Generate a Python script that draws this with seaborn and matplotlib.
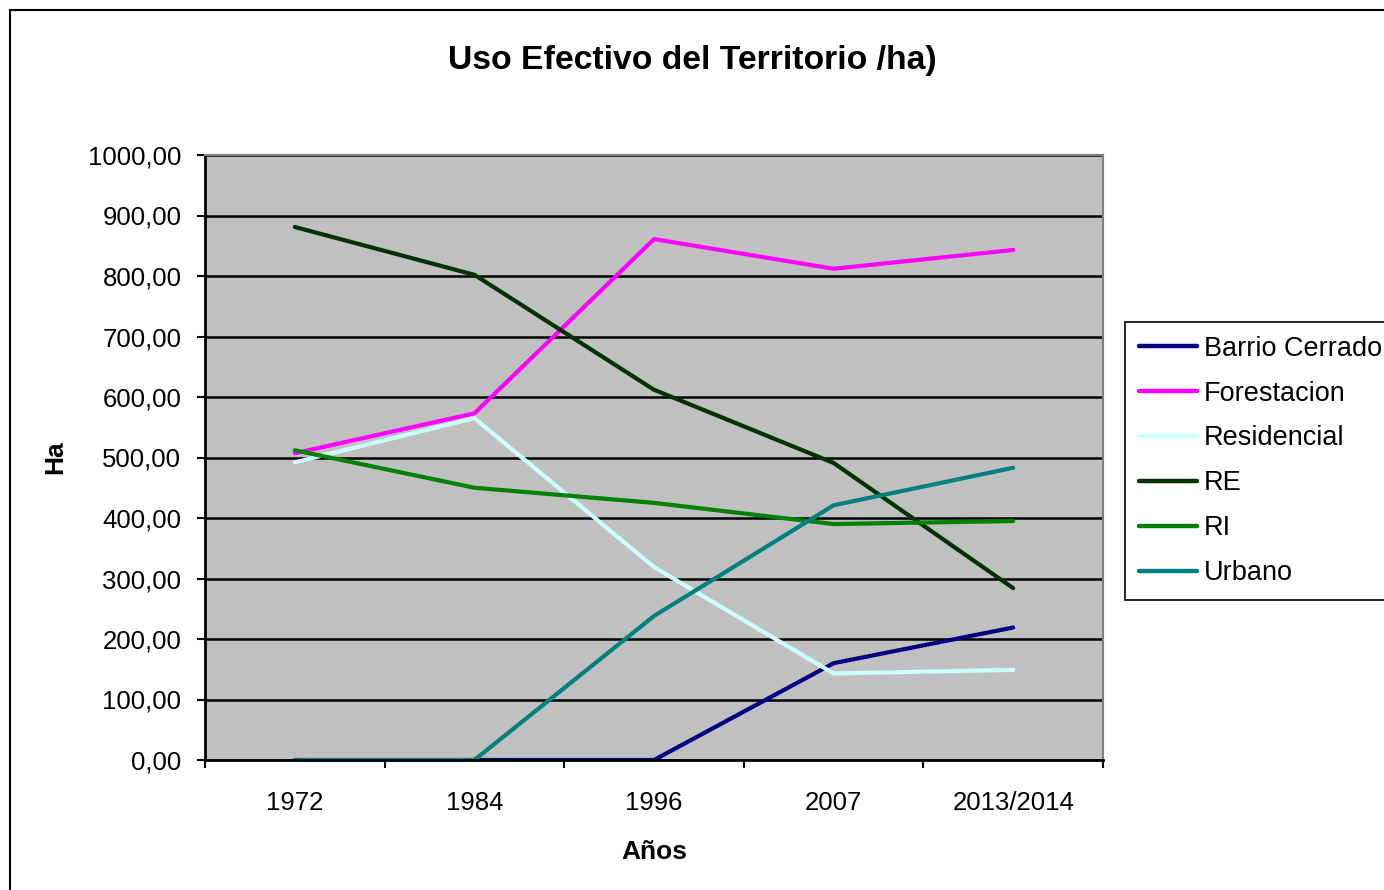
import pandas as pd
import matplotlib.pyplot as plt
import seaborn as sns
from matplotlib.ticker import FuncFormatter, FixedLocator
from matplotlib.patches import Rectangle

# datos
anios = ["1972", "1984", "1996", "2007", "2013/2014"]
barrio_cerrado = [0, 0, 0, 160, 219]
forestacion = [507, 573, 861, 812, 843]
residencial = [492, 565, 319, 143, 149]
re = [881, 802, 612, 491, 284]
ri = [512, 450, 425, 390, 395]
urbano = [0, 0, 238, 421, 483]

series = {
    "Barrio Cerrado": barrio_cerrado,
    "Forestacion": forestacion,
    "Residencial": residencial,
    "RE": re,
    "RI": ri,
    "Urbano": urbano,
}
colores = {
    "Barrio Cerrado": "#000080",
    "Forestacion": "#FF00FF",
    "Residencial": "#CCFFFF",
    "RE": "#003300",
    "RI": "#008000",
    "Urbano": "#008080",
}

filas = []
for nombre, valores in series.items():
    for a, v in zip(anios, valores):
        filas.append({"Año": a, "Ha": v, "Uso": nombre})
df = pd.DataFrame(filas)

sns.set_theme(style="white")
plt.rcParams["font.family"] = ["Liberation Sans", "DejaVu Sans"]

fig = plt.figure(figsize=(13.84, 8.9), dpi=100)
ax = fig.add_axes([205 / 1384, 1 - 760 / 890, 898 / 1384, 605 / 890])
ax.set_facecolor("#C0C0C0")

sns.lineplot(data=df, x="Año", y="Ha", hue="Uso", palette=colores,
             hue_order=list(series.keys()), linewidth=3, ax=ax, legend=True)

ax.set_xlim(-0.5, 4.5)
ax.set_ylim(0, 1000)
ax.set_yticks(range(0, 1001, 100))
ax.yaxis.set_major_formatter(FuncFormatter(lambda v, p: f"{v:.2f}".replace(".", ",")))
ax.yaxis.grid(True, color="black", linewidth=1.8)
ax.set_axisbelow(True)

# ticks entre categorias
ax.xaxis.set_minor_locator(FixedLocator([i - 0.5 for i in range(len(anios) + 1)]))
ax.tick_params(axis="x", which="major", length=0, pad=22, labelsize=18.5, labelcolor="black")
ax.tick_params(axis="x", which="minor", length=6, width=1.5, color="black", direction="out")
ax.tick_params(axis="y", length=6, width=1.5, color="black", direction="out", labelsize=18.5,
               pad=11, labelcolor="black")
ax.xaxis.set_tick_params(bottom=True, which="both")
ax.yaxis.set_tick_params(left=True)

for lado in ["left", "bottom"]:
    ax.spines[lado].set_color("black")
    ax.spines[lado].set_linewidth(2)
for lado in ["top", "right"]:
    ax.spines[lado].set_color("#808080")
    ax.spines[lado].set_linewidth(1.5)

ax.set_xlabel("Años", fontsize=19, fontweight="bold", labelpad=18, color="black")
ax.set_ylabel("Ha", fontsize=19, fontweight="bold", labelpad=15, color="black")
fig.suptitle("Uso Efectivo del Territorio /ha)", fontsize=24.3, fontweight="bold",
             y=1 - 60 / 890, va="center", color="black")

handles, labels = ax.get_legend_handles_labels()
leg = ax.legend(handles, labels, loc="upper left", bbox_to_anchor=(1125 / 1384, 1 - 322 / 890),
                bbox_transform=fig.transFigure, frameon=True, fancybox=False, framealpha=1,
                edgecolor="black", fontsize=19.5, handlelength=2.15, handletextpad=0.26,
                labelspacing=0.7, borderpad=0.5, borderaxespad=0)
leg.get_frame().set_linewidth(1.2)
for t in leg.get_texts():
    t.set_color("black")
for l in leg.get_lines():
    l.set_linewidth(3.2)

# marco exterior del grafico
fig.patches.append(Rectangle((10 / 1384, -0.05), 1.1, 1 - 10 / 890 + 0.05, transform=fig.transFigure,
                             fill=False, edgecolor="black", linewidth=1.5))

fig.savefig("out.png", dpi=100, facecolor="white")
